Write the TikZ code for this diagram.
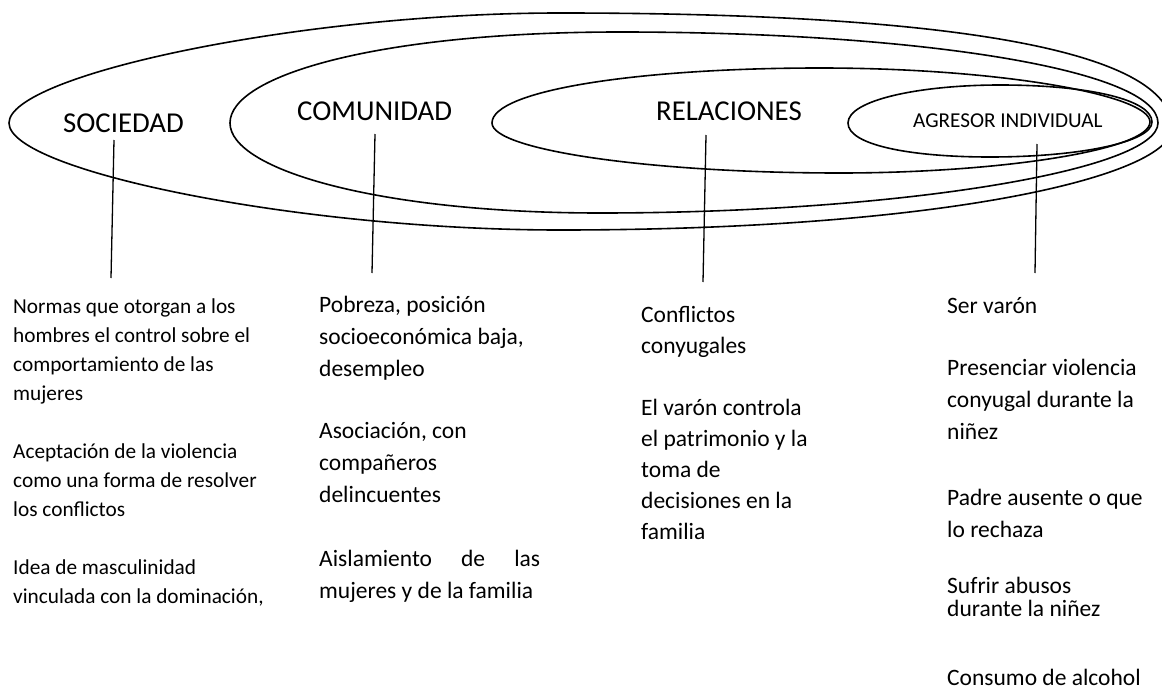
\documentclass[tikz,border=0pt]{standalone}
\usepackage{fontspec}
\setmainfont{Carlito}
\begin{document}
\begin{tikzpicture}[x=1pt,y=-1pt,
  ring/.style={line width=1.6pt},
  stem/.style={line width=1.3pt},
  head/.style={inner sep=0pt, anchor=base west, font=\fontsize{28.8}{34}\selectfont},
  agrhead/.style={inner sep=0pt, anchor=base west, font=\fontsize{21.2}{26}\selectfont},
  smalltxt/.style={inner sep=0pt, anchor=base west, font=\fontsize{21.3}{26}\selectfont},
  bodytxt/.style={inner sep=0pt, anchor=base west, font=\fontsize{23.5}{28}\selectfont}]
\useasboundingbox (0,0) rectangle (1162,693);
\fill[white] (0,0) rectangle (1162,693);
\begin{scope}
\clip (0,0) rectangle (1162,693);
% SOCIEDAD
\draw[ring] (9,123) .. controls (9,75) and (300,13) .. (560,13)
  .. controls (950,13) and (1172,50) .. (1172,128)
  .. controls (1172,175) and (950,230) .. (560,230)
  .. controls (300,230) and (9,171) .. (9,123) -- cycle;
% COMUNIDAD
\draw[ring] (230,123) .. controls (230,75) and (380,32) .. (620,32)
  .. controls (920,32) and (1158,70) .. (1158,123)
  .. controls (1158,170) and (900,213) .. (600,213)
  .. controls (380,213) and (230,170) .. (230,123) -- cycle;
% RELACIONES
\draw[ring] (492,123) .. controls (492,90) and (640,68) .. (820,68)
  .. controls (1000,68) and (1150,95) .. (1150,122)
  .. controls (1150,150) and (1000,173) .. (840,173)
  .. controls (650,173) and (492,150) .. (492,123) -- cycle;
% AGRESOR
\draw[ring] (848,123) .. controls (848,100) and (920,85) .. (1000,85)
  .. controls (1090,85) and (1152,100) .. (1152,122)
  .. controls (1152,142) and (1080,157) .. (990,157)
  .. controls (910,157) and (848,145) .. (848,123) -- cycle;
\end{scope}

% headings
\node[head] (soc) at (63,132) {SOCIEDAD};
\node[head] (com) at (297,120) {COMUNIDAD};
\node[head] (rel) at (656,120) {RELACIONES};
\node[agrhead] (agr) at (913,127) {AGRESOR INDIVIDUAL};

% stems
\coordinate (soctop) at (114,140);
\coordinate (socbot) at (111,278);
\coordinate (comtop) at (375,134);
\coordinate (combot) at (372,273);
\coordinate (reltop) at (706,135);
\coordinate (relbot) at (703,282);
\coordinate (agrtop) at (1037,144);
\coordinate (agrbot) at (1035,273);
\draw[stem] (soctop) -- (socbot);
\draw[stem] (comtop) -- (combot);
\draw[stem] (reltop) -- (relbot);
\draw[stem] (agrtop) -- (agrbot);

% column 1
\foreach \yy/\txt [count=\i] in {
  313/{Normas que otorgan a los},
  342/{hombres el control sobre el},
  371/{comportamiento de las},
  400/{mujeres},
  458/{Aceptación de la violencia},
  487/{como una forma de resolver},
  516/{los conflictos},
  574/{Idea de masculinidad},
  603/{vinculada con la dominación,}}
  \node[smalltxt, name=ca\i] at (13,\yy) {\txt};

% column 2
\foreach \yy/\txt [count=\i] in {
  312/{Pobreza, posición},
  344/{socioeconómica baja,},
  376/{desempleo},
  438/{Asociación, con},
  470/{compañeros},
  502/{delincuentes},
  566/{\hbox to 221pt{Aislamiento\hfill de\hfill las}},
  598/{mujeres y de la familia}}
  \node[bodytxt, name=cb\i] at (319,\yy) {\txt};

% column 3
\foreach \yy/\txt [count=\i] in {
  322/{Conflictos},
  353/{conyugales},
  415/{El varón controla},
  446/{el patrimonio y la},
  477/{toma de},
  508/{decisiones en la},
  539/{familia}}
  \node[bodytxt, name=cc\i] at (641,\yy) {\txt};

% column 4
\foreach \yy/\txt [count=\i] in {
  313/{Ser varón},
  375/{Presenciar violencia},
  407/{conyugal durante la},
  439/{niñez},
  505/{Padre ausente o que},
  537/{lo rechaza},
  593/{Sufrir abusos},
  616/{durante la niñez},
  685/{Consumo de alcohol}}
  \node[bodytxt, name=cd\i] at (947,\yy) {\txt};
\end{tikzpicture}
\end{document}
